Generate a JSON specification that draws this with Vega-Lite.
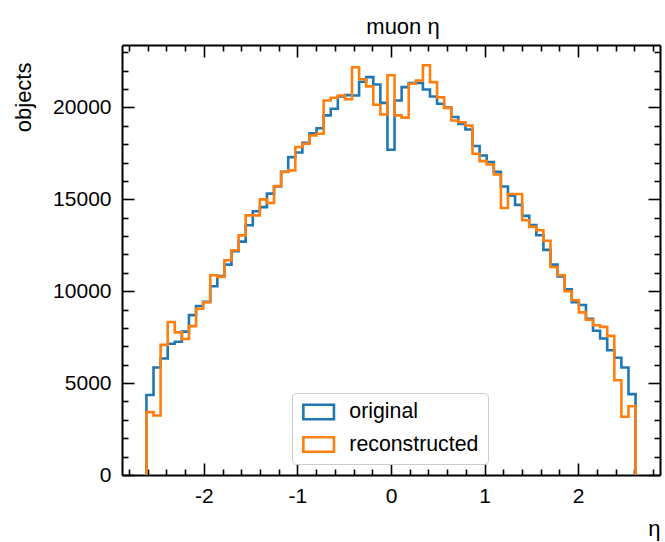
{
  "$schema": "https://vega.github.io/schema/vega-lite/v6.json",
  "width": 538,
  "height": 430,
  "autosize": {"type": "none"},
  "padding": {"left": 122, "top": 45, "right": 5, "bottom": 67},
  "background": "white",
  "config": {
    "font": "Liberation Sans",
    "view": {"stroke": null},
    "title": {"fontSize": 22, "fontWeight": "normal", "font": "Liberation Sans", "color": "black", "offset": 2},
    "axis": {"grid": false, "domainColor": "black", "tickColor": "black", "labelColor": "black", "titleColor": "black", "domainWidth": 2, "tickWidth": 1.6, "labelFont": "Liberation Sans", "titleFont": "Liberation Sans", "titleFontWeight": "normal", "labelOverlap": false, "labelFlush": false}
  },
  "title": {"text": "muon η", "fontSize": 22, "fontWeight": "normal", "offset": 2, "dx": 12},
  "data": {"values": [
    {"eta": -2.6130, "original": 0, "reconstructed": 0},
    {"eta": -2.6130, "original": 4350, "reconstructed": 3420},
    {"eta": -2.5373, "original": 5850, "reconstructed": 3240},
    {"eta": -2.4615, "original": 6340, "reconstructed": 7080},
    {"eta": -2.3858, "original": 7140, "reconstructed": 8330},
    {"eta": -2.3100, "original": 7250, "reconstructed": 7760},
    {"eta": -2.2343, "original": 7800, "reconstructed": 7400},
    {"eta": -2.1586, "original": 8700, "reconstructed": 8100},
    {"eta": -2.0828, "original": 9200, "reconstructed": 9050},
    {"eta": -2.0071, "original": 9420, "reconstructed": 9400},
    {"eta": -1.9313, "original": 10270, "reconstructed": 10870},
    {"eta": -1.8556, "original": 10820, "reconstructed": 10780},
    {"eta": -1.7799, "original": 11450, "reconstructed": 11690},
    {"eta": -1.7041, "original": 12180, "reconstructed": 12230},
    {"eta": -1.6284, "original": 12700, "reconstructed": 13040},
    {"eta": -1.5527, "original": 13590, "reconstructed": 14130},
    {"eta": -1.4769, "original": 14350, "reconstructed": 14130},
    {"eta": -1.4012, "original": 14580, "reconstructed": 15000},
    {"eta": -1.3254, "original": 15310, "reconstructed": 14800},
    {"eta": -1.2497, "original": 15700, "reconstructed": 15720},
    {"eta": -1.1740, "original": 16500, "reconstructed": 16490},
    {"eta": -1.0982, "original": 17300, "reconstructed": 16580},
    {"eta": -1.0225, "original": 17550, "reconstructed": 17850},
    {"eta": -0.9467, "original": 18080, "reconstructed": 18030},
    {"eta": -0.8710, "original": 18600, "reconstructed": 18480},
    {"eta": -0.7953, "original": 18870, "reconstructed": 18570},
    {"eta": -0.7195, "original": 19570, "reconstructed": 20380},
    {"eta": -0.6438, "original": 19930, "reconstructed": 20530},
    {"eta": -0.5680, "original": 20600, "reconstructed": 20650},
    {"eta": -0.4923, "original": 20670, "reconstructed": 20450},
    {"eta": -0.4166, "original": 20650, "reconstructed": 22190},
    {"eta": -0.3408, "original": 21400, "reconstructed": 21540},
    {"eta": -0.2651, "original": 21650, "reconstructed": 21150},
    {"eta": -0.1893, "original": 21250, "reconstructed": 20150},
    {"eta": -0.1136, "original": 20250, "reconstructed": 19620},
    {"eta": -0.0379, "original": 17700, "reconstructed": 21750},
    {"eta": 0.0379, "original": 20380, "reconstructed": 19570},
    {"eta": 0.1136, "original": 21110, "reconstructed": 19450},
    {"eta": 0.1893, "original": 21330, "reconstructed": 21290},
    {"eta": 0.2651, "original": 21330, "reconstructed": 21470},
    {"eta": 0.3408, "original": 20980, "reconstructed": 22300},
    {"eta": 0.4166, "original": 20600, "reconstructed": 21380},
    {"eta": 0.4923, "original": 20200, "reconstructed": 20550},
    {"eta": 0.5680, "original": 20000, "reconstructed": 19980},
    {"eta": 0.6438, "original": 19480, "reconstructed": 19290},
    {"eta": 0.7195, "original": 19100, "reconstructed": 19200},
    {"eta": 0.7953, "original": 18800, "reconstructed": 19020},
    {"eta": 0.8710, "original": 17900, "reconstructed": 17480},
    {"eta": 0.9467, "original": 17390, "reconstructed": 17080},
    {"eta": 1.0225, "original": 17030, "reconstructed": 16900},
    {"eta": 1.0982, "original": 16500, "reconstructed": 16350},
    {"eta": 1.1740, "original": 15700, "reconstructed": 14530},
    {"eta": 1.2497, "original": 15200, "reconstructed": 15290},
    {"eta": 1.3254, "original": 14700, "reconstructed": 15290},
    {"eta": 1.4012, "original": 14100, "reconstructed": 13860},
    {"eta": 1.4769, "original": 13600, "reconstructed": 13500},
    {"eta": 1.5527, "original": 13050, "reconstructed": 13320},
    {"eta": 1.6284, "original": 12250, "reconstructed": 12750},
    {"eta": 1.7041, "original": 11450, "reconstructed": 11320},
    {"eta": 1.7799, "original": 10800, "reconstructed": 10870},
    {"eta": 1.8556, "original": 10100, "reconstructed": 10000},
    {"eta": 1.9313, "original": 9400, "reconstructed": 9510},
    {"eta": 2.0071, "original": 9250, "reconstructed": 8850},
    {"eta": 2.0828, "original": 8500, "reconstructed": 8450},
    {"eta": 2.1586, "original": 7850, "reconstructed": 8150},
    {"eta": 2.2343, "original": 7430, "reconstructed": 8060},
    {"eta": 2.3100, "original": 6790, "reconstructed": 7570},
    {"eta": 2.3858, "original": 6380, "reconstructed": 5160},
    {"eta": 2.4615, "original": 5850, "reconstructed": 3170},
    {"eta": 2.5373, "original": 4400, "reconstructed": 3740},
    {"eta": 2.6130, "original": 4400, "reconstructed": 3740},
    {"eta": 2.6130, "original": 0, "reconstructed": 0}
  ]},
  "transform": [{"fold": ["original", "reconstructed"], "as": ["series", "count"]}],
  "layer": [
    {
      "mark": {"type": "line", "interpolate": "step-after", "strokeWidth": 2.6},
      "encoding": {
        "x": {"field": "eta", "type": "quantitative", "scale": {"domain": [-2.874, 2.874], "nice": false, "zero": false},
          "axis": {"orient": "bottom", "values": [-2.8,-2.6,-2.4,-2.2,-2,-1.8,-1.6,-1.4,-1.2,-1,-0.8,-0.6,-0.4,-0.2,0,0.2,0.4,0.6,0.8,1,1.2,1.4,1.6,1.8,2,2.2,2.4,2.6,2.8],
            "labelExpr": "datum.value % 1 === 0 ? (datum.value < 0 ? '-' + format(-datum.value, 'd') : format(datum.value, 'd')) : ''",
            "tickSize": {"condition": {"test": "datum.value % 1 === 0", "value": -12}, "value": -6},
            "labelPadding": 22, "labelFontSize": 21, "title": "η", "titleFontSize": 22, "titleAnchor": "end", "titlePadding": 6}},
        "y": {"field": "count", "type": "quantitative", "scale": {"domain": [0, 23400], "nice": false},
          "axis": {"orient": "left", "values": [0,1000,2000,3000,4000,5000,6000,7000,8000,9000,10000,11000,12000,13000,14000,15000,16000,17000,18000,19000,20000,21000,22000,23000],
            "labelExpr": "datum.value % 5000 === 0 ? format(datum.value, 'd') : ''",
            "tickSize": {"condition": {"test": "datum.value % 5000 === 0", "value": -12}, "value": -6},
            "labelPadding": 23, "labelFontSize": 21, "title": "objects", "titleFontSize": 22, "titleAnchor": "end", "titlePadding": 17, "titleY": 17}},
        "color": {"field": "series", "type": "nominal",
          "scale": {"domain": ["original", "reconstructed"], "range": ["#1f77b4", "#ff7f0e"]},
          "legend": {"title": null, "orient": "none", "legendX": 170, "legendY": 348,
            "symbolType": "M-1.8,-0.85H1.8V0.85H-1.8Z", "symbolSize": 289, "symbolStrokeWidth": 2.6,
            "symbolFillColor": "transparent", "symbolOffset": 7, "labelOffset": 20,
            "labelFontSize": 21.3, "labelColor": "black", "padding": 9, "rowPadding": 10.5, "clipHeight": 20,
            "strokeColor": "#cccccc", "fillColor": "white", "cornerRadius": 4}},
        "order": {"value": null}
      }
    },
    {
      "mark": {"type": "line", "interpolate": "step-after", "strokeOpacity": 0},
      "encoding": {
        "x": {"field": "eta", "type": "quantitative", "scale": {"domain": [-2.874, 2.874], "nice": false, "zero": false},
          "axis": {"orient": "top", "labels": false, "title": null, "values": [-2.8,-2.6,-2.4,-2.2,-2,-1.8,-1.6,-1.4,-1.2,-1,-0.8,-0.6,-0.4,-0.2,0,0.2,0.4,0.6,0.8,1,1.2,1.4,1.6,1.8,2,2.2,2.4,2.6,2.8],
            "tickSize": {"condition": {"test": "datum.value % 1 === 0", "value": -12}, "value": -6}}},
        "y": {"field": "count", "type": "quantitative", "scale": {"domain": [0, 23400], "nice": false},
          "axis": {"orient": "right", "labels": false, "title": null, "values": [0,1000,2000,3000,4000,5000,6000,7000,8000,9000,10000,11000,12000,13000,14000,15000,16000,17000,18000,19000,20000,21000,22000,23000],
            "tickSize": {"condition": {"test": "datum.value % 5000 === 0", "value": -12}, "value": -6}}},
        "detail": {"field": "series", "type": "nominal"},
        "order": {"value": null}
      }
    }
  ],
  "resolve": {"axis": {"x": "independent", "y": "independent"}}
}
